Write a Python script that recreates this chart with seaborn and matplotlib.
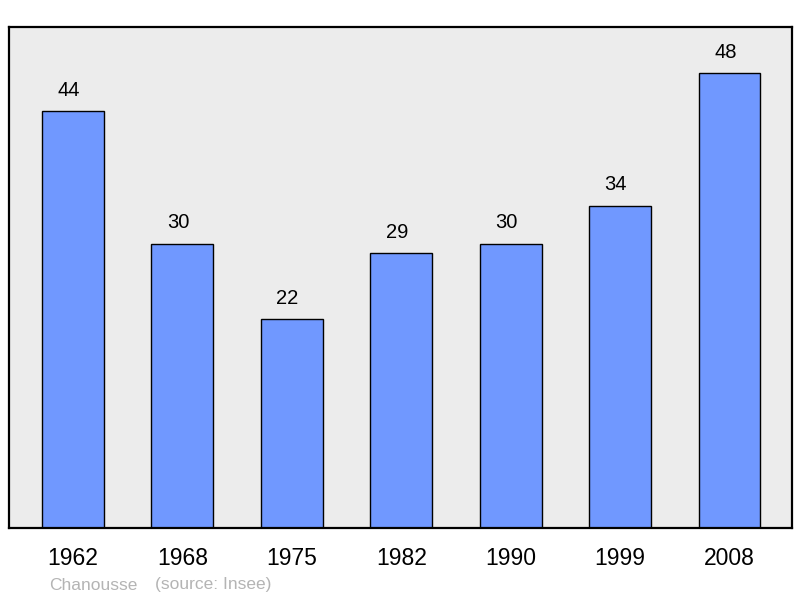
import pandas as pd
import matplotlib
matplotlib.use('Agg')
import matplotlib.pyplot as plt
import seaborn as sns

years = ['1962', '1968', '1975', '1982', '1990', '1999', '2008']
population = [44, 30, 22, 29, 30, 34, 48]

sns.set_style('white')
plt.rcParams['font.family'] = ['Liberation Sans', 'DejaVu Sans']

df = pd.DataFrame({'year': years, 'pop': population})

fig = plt.figure(figsize=(8, 5.98), dpi=100)
ax = fig.add_axes([0.01125, 0.117, 0.97875, 0.838])
ax.set_facecolor('#ececec')

sns.barplot(data=df, x='year', y='pop', order=years, color='#7098ff',
            saturation=1, width=0.566, edgecolor='black', linewidth=1.0, ax=ax)

for i, v in enumerate(population):
    ax.annotate(str(v), (i, v), xytext=(-3, 11), textcoords='offset points',
                ha='center', va='baseline', fontsize=14.5, color='black')

ax.set_xlim(-0.584, 6.571)
ax.set_ylim(0, 52.85)
ax.set_yticks([])
ax.set_xlabel('')
ax.set_ylabel('')
ax.tick_params(axis='x', length=0, labelsize=16.5, pad=14, labelcolor='black')
for s in ax.spines.values():
    s.set_visible(True)
    s.set_color('black')
    s.set_linewidth(1.6)

fig.text(49 / 800, 1 - 585 / 598, 'Chanousse', color='#b4b4b4', fontsize=12.5, va='center')
fig.text(155 / 800, 1 - 585 / 598, '(source: Insee)', color='#b4b4b4', fontsize=12.5, va='center')

fig.savefig('out.png', dpi=100, facecolor='white')
